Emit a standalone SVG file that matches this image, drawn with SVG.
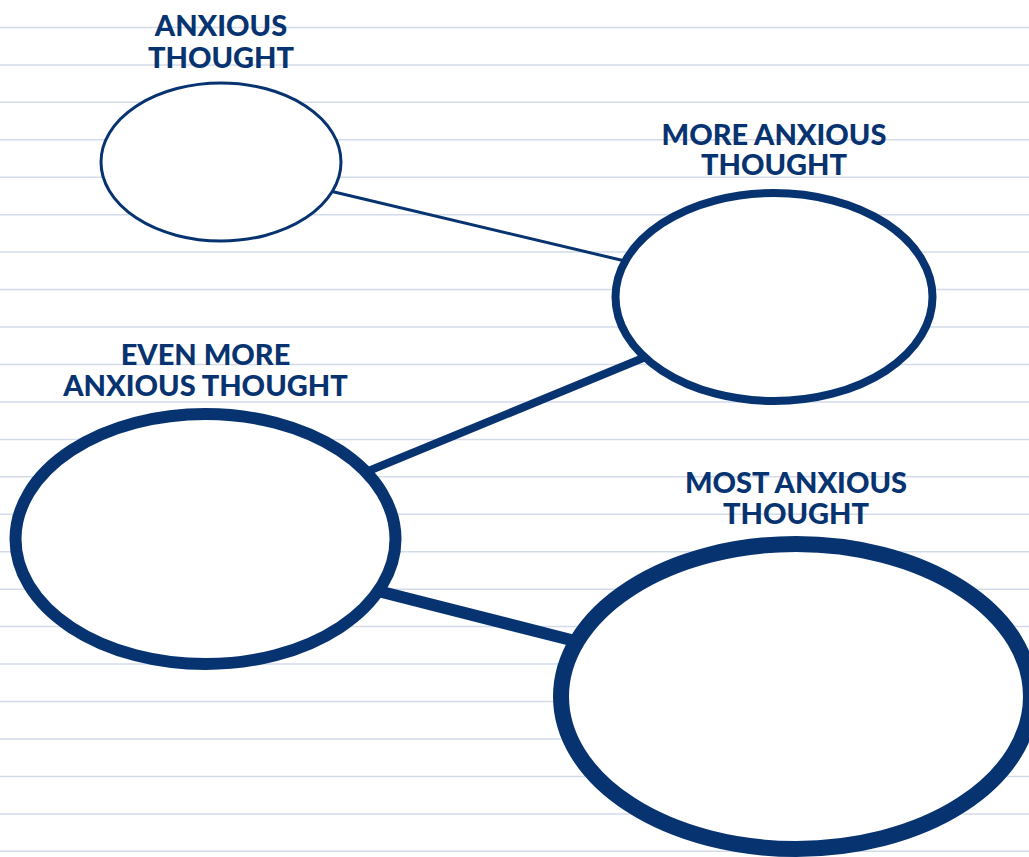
<svg xmlns="http://www.w3.org/2000/svg" width="1029" height="857" viewBox="0 0 1029 857">
<style>
.rule{stroke:#d3dbea;stroke-width:1.5}
.node{fill:#ffffff;stroke:#073370}
.conn{stroke:#073370;fill:none}
.lbl{font-family:Lato,"Liberation Sans",sans-serif;font-weight:900;font-size:29px;fill:#073370;text-anchor:middle}
</style>
<rect width="1029" height="857" fill="#ffffff"/>
<g id="rules">
<line class="rule" x1="0" y1="27.4" x2="1029" y2="27.4"/>
<line class="rule" x1="0" y1="64.9" x2="1029" y2="64.9"/>
<line class="rule" x1="0" y1="102.3" x2="1029" y2="102.3"/>
<line class="rule" x1="0" y1="139.8" x2="1029" y2="139.8"/>
<line class="rule" x1="0" y1="177.2" x2="1029" y2="177.2"/>
<line class="rule" x1="0" y1="214.7" x2="1029" y2="214.7"/>
<line class="rule" x1="0" y1="252.1" x2="1029" y2="252.1"/>
<line class="rule" x1="0" y1="289.6" x2="1029" y2="289.6"/>
<line class="rule" x1="0" y1="327.0" x2="1029" y2="327.0"/>
<line class="rule" x1="0" y1="364.5" x2="1029" y2="364.5"/>
<line class="rule" x1="0" y1="401.9" x2="1029" y2="401.9"/>
<line class="rule" x1="0" y1="439.4" x2="1029" y2="439.4"/>
<line class="rule" x1="0" y1="476.8" x2="1029" y2="476.8"/>
<line class="rule" x1="0" y1="514.3" x2="1029" y2="514.3"/>
<line class="rule" x1="0" y1="551.7" x2="1029" y2="551.7"/>
<line class="rule" x1="0" y1="589.2" x2="1029" y2="589.2"/>
<line class="rule" x1="0" y1="626.6" x2="1029" y2="626.6"/>
<line class="rule" x1="0" y1="664.1" x2="1029" y2="664.1"/>
<line class="rule" x1="0" y1="701.5" x2="1029" y2="701.5"/>
<line class="rule" x1="0" y1="739.0" x2="1029" y2="739.0"/>
<line class="rule" x1="0" y1="776.4" x2="1029" y2="776.4"/>
<line class="rule" x1="0" y1="813.9" x2="1029" y2="813.9"/>
<line class="rule" x1="0" y1="851.3" x2="1029" y2="851.3"/>
</g>
<g id="connectors">
<line class="conn" x1="330" y1="191" x2="625" y2="261" stroke-width="3"/>
<line class="conn" x1="648" y1="356" x2="366" y2="472" stroke-width="8"/>
<line class="conn" x1="378" y1="591" x2="575" y2="641" stroke-width="12"/>
</g>
<g id="node1">
<ellipse class="node" cx="221" cy="162" rx="120" ry="79" stroke-width="3"/>
<text class="lbl"><tspan x="221" y="36">ANXIOUS</tspan><tspan x="221" y="67.5">THOUGHT</tspan></text>
</g>
<g id="node2">
<ellipse class="node" cx="774" cy="297" rx="158.5" ry="104" stroke-width="8"/>
<text class="lbl"><tspan x="774" y="145">MORE ANXIOUS</tspan><tspan x="774" y="175">THOUGHT</tspan></text>
</g>
<g id="node3">
<ellipse class="node" cx="205.5" cy="539" rx="190" ry="125" stroke-width="12"/>
<text class="lbl"><tspan x="205.5" y="364.5">EVEN MORE</tspan><tspan x="205.5" y="396">ANXIOUS THOUGHT</tspan></text>
</g>
<g id="node4">
<ellipse class="node" cx="796" cy="696.5" rx="235" ry="152.5" stroke-width="16"/>
<text class="lbl"><tspan x="796" y="492.5">MOST ANXIOUS</tspan><tspan x="796" y="523.5">THOUGHT</tspan></text>
</g>
</svg>
